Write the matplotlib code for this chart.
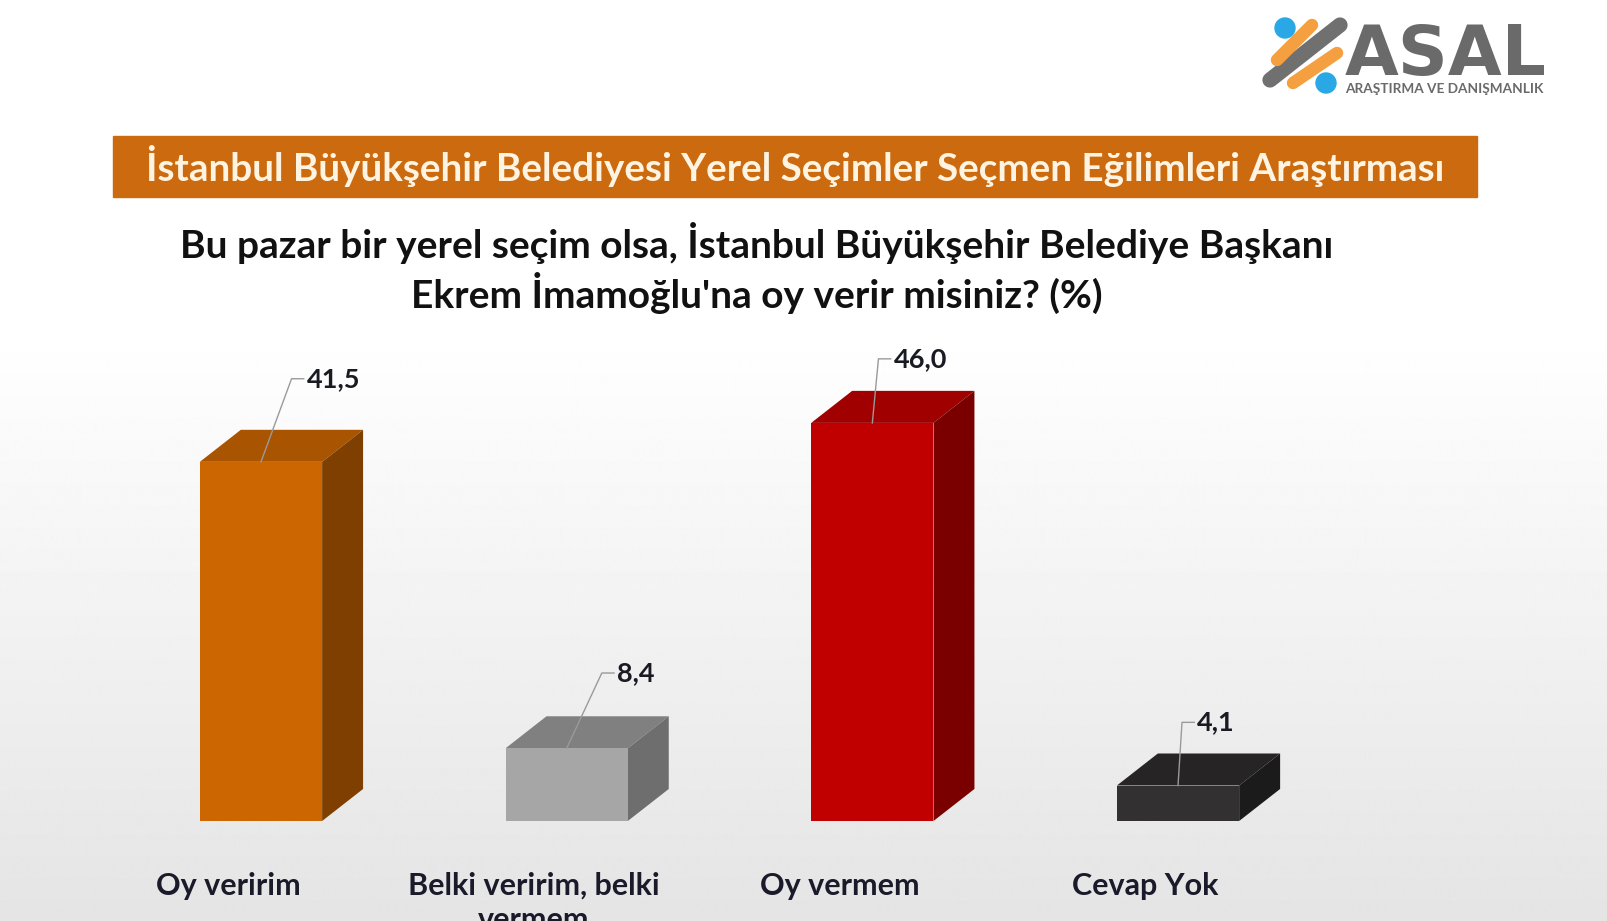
import numpy as np
import matplotlib
matplotlib.use("Agg")
import matplotlib.pyplot as plt
from matplotlib.patches import Polygon, Rectangle, Circle

plt.rcParams['font.family'] = ['Lato', 'DejaVu Sans']

# data
categories = ["Oy veririm", "Belki veririm, belki\nvermem", "Oy vermem", "Cevap Yok"]
values = [41.5, 8.4, 46.0, 4.1]

# styles
front_colors = ['#CC6600', '#A6A6A6', '#C00000', '#323031']
top_colors = ['#A95400', '#808080', '#A00000', '#262425']
side_colors = ['#7F3F00', '#6E6E6E', '#7A0000', '#1C1B1C']
lead_dx = [0.10, 0.115, 0.02, 0.013]
lead_dy = [9.6, 8.7, 7.4, 7.3]

W, H = 1607, 921
fig = plt.figure(figsize=(W / 100, H / 100), dpi=100)

# background gradient
bg = fig.add_axes([0, 0, 1, 1], zorder=-5)
g = np.concatenate([np.ones(330), np.linspace(1, 0.895, H - 330)])
bg.imshow(np.tile(g[:, None], (1, 10)), cmap='gray', vmin=0, vmax=1,
          aspect='auto', extent=[0, 1, 0, 1])
bg.axis('off')

# title band
fig.patches.append(Rectangle((113 / W, 1 - 197 / H), 1364 / W, 61 / H,
                             transform=fig.transFigure, color='#CC6A10', zorder=1))
fig.text(795 / W, 1 - 166 / H,
         "İstanbul Büyükşehir Belediyesi Yerel Seçimler Seçmen Eğilimleri Araştırması",
         ha='center', va='center', fontsize=27.8, fontweight='bold', color='#FFF4E2')
fig.text(757 / W, 1 - 243 / H,
         "Bu pazar bir yerel seçim olsa, İstanbul Büyükşehir Belediye Başkanı",
         ha='center', va='center', fontsize=28, fontweight='bold', color='#111111')
fig.text(757 / W, 1 - 293 / H, "Ekrem İmamoğlu'na oy verir misiniz? (%)",
         ha='center', va='center', fontsize=28, fontweight='bold', color='#111111')

# chart
ax = fig.add_axes([47 / W, 100 / H, 1345 / W, 476 / H])
ax.set_xlim(-0.7, 3.7)
ax.set_ylim(0, 55)
ax.axis('off')

bw = 0.40
ddx, ddy = 0.134, 3.7
for i, (v, cat) in enumerate(zip(values, categories)):
    x0, x1 = i - bw / 2, i + bw / 2
    ax.add_patch(Polygon([(x0, v), (x1, v), (x1 + ddx, v + ddy), (x0 + ddx, v + ddy)],
                         closed=True, color=top_colors[i], lw=0))
    ax.add_patch(Polygon([(x1, 0), (x1 + ddx, ddy), (x1 + ddx, v + ddy), (x1, v)],
                         closed=True, color=side_colors[i], lw=0))
    ax.add_patch(Rectangle((x0, 0), bw, v, color=front_colors[i], lw=0))
    # leader line + value label
    lx, ly = i + lead_dx[i], v + lead_dy[i]
    ax.plot([i, lx, lx + 0.04], [v, ly, ly], color='#9A9A9A', lw=1.0,
            clip_on=False, zorder=5)
    ax.text(lx + 0.05, ly, f"{v:.1f}".replace('.', ','), ha='left', va='center',
            fontsize=19.5, fontweight='bold', color='#1a1a22', clip_on=False)
    ax.text(i - 0.108, -5.9, cat, ha='center', va='top', fontsize=22,
            fontweight='bold', color='#1a1a2a', clip_on=False, linespacing=1.25)

# logo
lg = fig.add_axes([1250 / W, 1 - 100 / H, 310 / W, 90 / H])
lg.set_xlim(1250, 1560)
lg.set_ylim(100, 10)
lg.axis('off')
lg.plot([1270, 1340], [80, 25], color='#707070', lw=11, solid_capstyle='round')
lg.plot([1277, 1312], [60, 25], color='#F5A040', lw=9, solid_capstyle='round')
lg.plot([1293, 1337], [83, 53], color='#F5A040', lw=9, solid_capstyle='round')
lg.add_patch(Circle((1285, 28), 10, color='#2AA8E6'))
lg.add_patch(Circle((1326, 83), 10, color='#2AA8E6'))
lg.text(1446, 75, "ASAL", ha='center', va='baseline', fontsize=50,
        fontweight='bold', color='#6A6A6A', family='DejaVu Sans')
lg.text(1444, 89, "ARAŞTIRMA VE DANIŞMANLIK", ha='center', va='center',
        fontsize=9.8, fontweight='bold', color='#6A6A6A')

fig.savefig("out.png", dpi=100)
